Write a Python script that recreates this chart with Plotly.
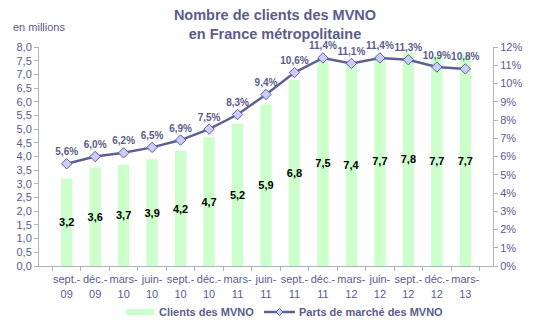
import plotly.graph_objects as go

# Trimestres (libellés de l'axe horizontal)
trimestres = ["sept.-<br>09", "déc.-<br>09", "mars-<br>10", "juin-<br>10",
              "sept.-<br>10", "déc.-<br>10", "mars-<br>11", "juin-<br>11",
              "sept.-<br>11", "déc.-<br>11", "mars-<br>12", "juin-<br>12",
              "sept.-<br>12", "déc.-<br>12", "mars-<br>13"]

# Nombre de clients des MVNO (millions)
clients_mvno = [3.2, 3.6, 3.7, 3.9, 4.2, 4.7, 5.2, 5.9, 6.8, 7.5, 7.4, 7.7, 7.8, 7.7, 7.7]

# Parts de marché des MVNO (%)
parts_marche = [5.6, 6.0, 6.2, 6.5, 6.9, 7.5, 8.3, 9.4, 10.6, 11.4, 11.1, 11.4, 11.3, 10.9, 10.8]

TXT = "#5c5c8a"
LINE = "#5f5f94"
AXIS = "#aab4ba"
BAR = "#ccffcc"
FONT = "Liberation Sans, Arial, sans-serif"

W, H = 538, 324
ML, MR, MT, MB = 39, 45, 47, 58
PW, PH = W - ML - MR, H - MT - MB


def px_x(x):
    return (x - ML) / PW


def px_y(y):
    return (H - MB - y) / PH


fig = go.Figure()

fig.add_trace(go.Bar(
    x=trimestres, y=clients_mvno, name="Clients des MVNO",
    marker=dict(color=BAR, line=dict(width=0)),
    width=0.4,
    texttemplate="<b>%{y:.1f}</b>", textposition="inside",
    insidetextanchor="middle", textangle=0, constraintext="none",
    textfont=dict(family=FONT, size=11, color="black"),
    yaxis="y", cliponaxis=False, showlegend=False,
))

fig.add_trace(go.Scatter(
    x=trimestres, y=parts_marche, name="Parts de marché des MVNO",
    mode="lines+markers+text",
    line=dict(color=LINE, width=2.5),
    marker=dict(symbol="diamond", size=8, color="#ccccff",
                line=dict(color=LINE, width=1)),
    texttemplate="<b>%{y:.1f}%</b>", textposition="top center",
    textfont=dict(family=FONT, size=10, color=TXT),
    yaxis="y2", cliponaxis=False, showlegend=False,
))

fig.update_layout(
    width=W, height=H,
    margin=dict(l=ML, r=MR, t=MT, b=MB, autoexpand=False),
    separators=",.",
    paper_bgcolor="white", plot_bgcolor="white",
    font=dict(family=FONT, size=11, color=TXT),
    title=dict(
        text="<b>Nombre de clients des MVNO<br>en France métropolitaine</b>",
        x=px_x(275), xref="paper", xanchor="center",
        y=1 - 20 / H, yref="container", yanchor="middle",
        font=dict(family=FONT, size=14.5, color=TXT),
    ),
    showlegend=False,
    xaxis=dict(
        type="category", showgrid=False, showline=True, linecolor=AXIS,
        linewidth=1, ticks="outside", ticklen=4, tickcolor=AXIS,
        tickson="boundaries", tickangle=0, ticklabelstandoff=3,
        tickfont=dict(size=11, color=TXT),
    ),
    yaxis=dict(
        range=[0, 8], dtick=0.5, tickformat=".1f", showgrid=False,
        showline=True, linecolor=AXIS, ticks="outside", ticklen=4,
        tickcolor=AXIS, tickfont=dict(size=11, color=TXT), zeroline=False,
    ),
    yaxis2=dict(
        range=[0, 12], dtick=1, ticksuffix="%", overlaying="y", side="right",
        showgrid=False, showline=True, linecolor=AXIS, ticks="outside",
        ticklen=4, tickcolor=AXIS, tickfont=dict(size=11, color=TXT),
        zeroline=False,
    ),
)

# Unité de l'axe gauche
fig.add_annotation(
    text="en millions", xref="paper", yref="paper", x=px_x(11), y=px_y(27),
    xanchor="left", yanchor="middle", showarrow=False,
    font=dict(family=FONT, size=11, color=TXT),
)

# Légende dessinée sous le graphique
ly = 312
fig.add_shape(type="rect", xref="paper", yref="paper",
              x0=px_x(126), x1=px_x(154), y0=px_y(315), y1=px_y(309),
              fillcolor=BAR, line=dict(width=0))
fig.add_annotation(
    text="<b>Clients des MVNO</b>", xref="paper", yref="paper",
    x=px_x(157), y=px_y(ly), xanchor="left", yanchor="middle",
    showarrow=False, font=dict(family=FONT, size=11, color=TXT),
)
fig.add_shape(type="line", xref="paper", yref="paper",
              x0=px_x(264), x1=px_x(295), y0=px_y(ly), y1=px_y(ly),
              line=dict(color=LINE, width=2.5))
fig.add_shape(type="path", xref="paper", yref="paper",
              path=(f"M {px_x(276)} {px_y(ly)} L {px_x(279.5)} {px_y(ly - 3.5)} "
                    f"L {px_x(283)} {px_y(ly)} L {px_x(279.5)} {px_y(ly + 3.5)} Z"),
              fillcolor="#ccccff", line=dict(color=LINE, width=1))
fig.add_annotation(
    text="<b>Parts de marché des MVNO</b>", xref="paper", yref="paper",
    x=px_x(297), y=px_y(ly), xanchor="left", yanchor="middle",
    showarrow=False, font=dict(family=FONT, size=11, color=TXT),
)

fig.write_html("out.html")
